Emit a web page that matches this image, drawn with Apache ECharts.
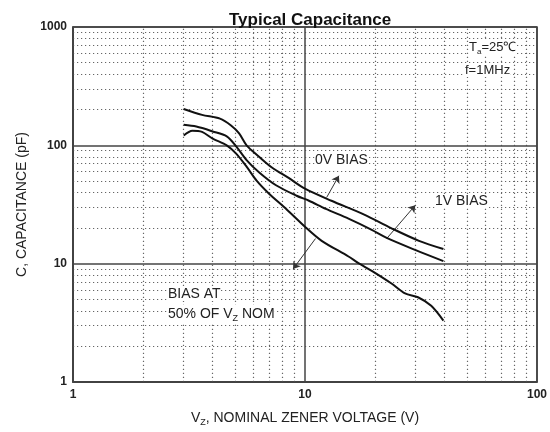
<!DOCTYPE html>
<html>
<head>
<meta charset="utf-8">
<script src="https://cdn.jsdelivr.net/npm/echarts@6/dist/echarts.min.js"></script>
<style>
html, body { margin: 0; padding: 0; background: #fff; }
#pic { width: 550px; height: 432px; }
</style>
</head>
<body>
<div id="pic"></div>
<script>
// axis ticks (log decades) and minor grid positions
var xMajor = [1, 10, 100];
var xMinor = [2, 3, 4, 5, 6, 7, 8, 9, 20, 30, 40, 50, 60, 70, 80, 90];
var yMajor = [1, 10, 100, 1000];
var yMinor = [2, 3, 4, 5, 6, 7, 8, 9, 20, 30, 40, 50, 60, 70, 80, 90, 200, 300, 400, 500, 600, 700, 800, 900];

// 0V bias
var vz0 = [3, 3.6, 4.3, 4.8, 5.2, 5.6, 6.3, 7.2, 8.5, 10, 13, 18, 23.5, 31, 39.5];
var cap0 = [203, 181, 168, 147, 126, 100, 81, 65, 53, 43, 34, 26, 20, 15.6, 13.3];
// 1V bias
var vz1 = [3, 3.4, 4, 4.6, 5.05, 5.6, 6.35, 7.5, 9.2, 10.4, 12.3, 15.4, 19.4, 22.5, 30, 39.5];
var cap1 = [149, 144, 131, 119, 98, 75, 59, 46, 37.5, 34, 29, 24, 19.3, 16.5, 13, 10.5];
// bias at 50% of Vz nom
var vz50 = [3, 3.27, 3.6, 4, 4.6, 5.05, 5.6, 6.2, 7, 8.3, 10, 11.8, 15.4, 17, 19.4, 23.6, 27, 30.7, 35, 39.5];
var cap50 = [121, 133, 130, 114, 100, 85, 66, 50, 39, 29, 20.5, 15.6, 11.5, 10.1, 8.7, 6.8, 5.6, 5.2, 4.4, 3.3];

// annotation arrows [from, to] in data units
var arrowFrom = [[12.4, 36.3], [22.5, 16.3], [11.1, 16.3]];
var arrowTo = [[14.0, 55.3], [29.9, 31.2], [8.88, 9.0]];

var font = "'Liberation Sans', Arial, sans-serif";

function pairs(xs, ys) {
    var out = [];
    for (var i = 0; i < xs.length; i++) out.push([xs[i], ys[i]]);
    return out;
}

var minorLines = [];
xMinor.forEach(function (v) { minorLines.push({ xAxis: v }); });
yMinor.forEach(function (v) { minorLines.push({ yAxis: v }); });
var majorLines = [];
xMajor.forEach(function (v) { majorLines.push({ xAxis: v }); });
yMajor.forEach(function (v) { majorLines.push({ yAxis: v }); });
var arrows = [];
for (var i = 0; i < arrowFrom.length; i++) {
    arrows.push([{ coord: arrowFrom[i] }, { coord: arrowTo[i] }]);
}

function curve(name, xs, ys) {
    return {
        name: name,
        type: 'line',
        data: pairs(xs, ys),
        smooth: 0.3,
        showSymbol: false,
        symbol: 'none',
        z: 5,
        lineStyle: { color: '#111', width: 2 }
    };
}

var subRich = {
    n: { fontFamily: font, fontSize: 14, color: '#222' },
    s: { fontFamily: font, fontSize: 9, color: '#222', padding: [9, 0, 0, 0] }
};

var myChart = echarts.init(document.getElementById('pic'));
var option = {
    animation: false,
    backgroundColor: '#fff',
    title: {
        text: 'Typical Capacitance',
        left: 224,
        top: 7,
        textStyle: { fontFamily: font, fontSize: 17, fontWeight: 'bold', color: '#111' }
    },
    grid: {
        left: 73, right: 10, top: 27, bottom: 44,
        show: true, borderColor: '#333', borderWidth: 1.5
    },
    xAxis: {
        type: 'log',
        logBase: 10,
        min: 1,
        max: 100,
        name: '{n|V}{s|Z}{n|, NOMINAL ZENER VOLTAGE (V)}',
        nameLocation: 'middle',
        nameGap: 27,
        nameTextStyle: { rich: subRich },
        axisLine: { lineStyle: { color: '#333', width: 1.5 } },
        axisTick: { show: false },
        splitLine: { show: false },
        axisLabel: { fontFamily: font, fontSize: 12, fontWeight: 'bold', color: '#222', margin: 7,
                     formatter: function (v) { return String(v); } }
    },
    yAxis: {
        type: 'log',
        logBase: 10,
        min: 1,
        max: 1000,
        name: 'C, CAPACITANCE (pF)',
        nameLocation: 'middle',
        nameRotate: 90,
        nameGap: 40,
        nameTextStyle: { fontFamily: font, fontSize: 14, color: '#222' },
        axisLine: { lineStyle: { color: '#333', width: 1.5 } },
        axisTick: { show: false },
        splitLine: { show: false },
        axisLabel: { fontFamily: font, fontSize: 12, fontWeight: 'bold', color: '#222', margin: 6,
                     formatter: function (v) { return String(v); } }
    },
    graphic: [
        { type: 'text', left: 469, top: 39, z: 10,
          style: { text: '{n|T}{s|a}{n|=25℃}', fill: '#222', backgroundColor: '#fff',
                   rich: { n: { fontFamily: font, fontSize: 13, fill: '#222' },
                           s: { fontFamily: font, fontSize: 8, fill: '#222', padding: [9, 0, 0, 0] } } } },
        { type: 'text', left: 465, top: 64, z: 10,
          style: { text: 'f=1MHz', font: '13px ' + font, fill: '#222', backgroundColor: '#fff' } },
        { type: 'text', left: 315, top: 153, z: 10,
          style: { text: '0V BIAS', font: '14px ' + font, fill: '#222', backgroundColor: '#fff' } },
        { type: 'text', left: 435, top: 194, z: 10,
          style: { text: '1V BIAS', font: '14px ' + font, fill: '#222', backgroundColor: '#fff' } },
        { type: 'text', left: 168, top: 287, z: 10,
          style: { text: 'BIAS AT', font: '14px ' + font, fill: '#222', backgroundColor: '#fff' } },
        { type: 'text', left: 168, top: 305, z: 10,
          style: { text: '{n|50% OF V}{s|Z}{n| NOM}', fill: '#222', backgroundColor: '#fff',
                   rich: { n: { fontFamily: font, fontSize: 14, fill: '#222' },
                           s: { fontFamily: font, fontSize: 9, fill: '#222', padding: [9, 0, 0, 0] } } } }
    ],
    series: [
        {
            name: 'minorGrid',
            type: 'line',
            data: [],
            silent: true,
            markLine: {
                silent: true,
                symbol: ['none', 'none'],
                label: { show: false },
                lineStyle: { color: '#666', width: 1.2, type: [1.2, 2.8] },
                data: minorLines
            }
        },
        {
            name: 'majorGrid',
            type: 'line',
            data: [],
            silent: true,
            markLine: {
                silent: true,
                symbol: ['none', 'none'],
                label: { show: false },
                lineStyle: { color: '#444', width: 1.5, type: 'solid' },
                data: majorLines
            }
        },
        curve('0V BIAS', vz0, cap0),
        curve('1V BIAS', vz1, cap1),
        curve('BIAS AT 50% OF VZ NOM', vz50, cap50),
        {
            name: 'arrows',
            type: 'line',
            data: [],
            silent: true,
            z: 6,
            markLine: {
                silent: true,
                symbol: ['none', 'arrow'],
                symbolSize: 7,
                label: { show: false },
                lineStyle: { color: '#333', width: 1, type: 'solid' },
                data: arrows
            }
        }
    ]
};
myChart.setOption(option);
</script>
</body>
</html>
